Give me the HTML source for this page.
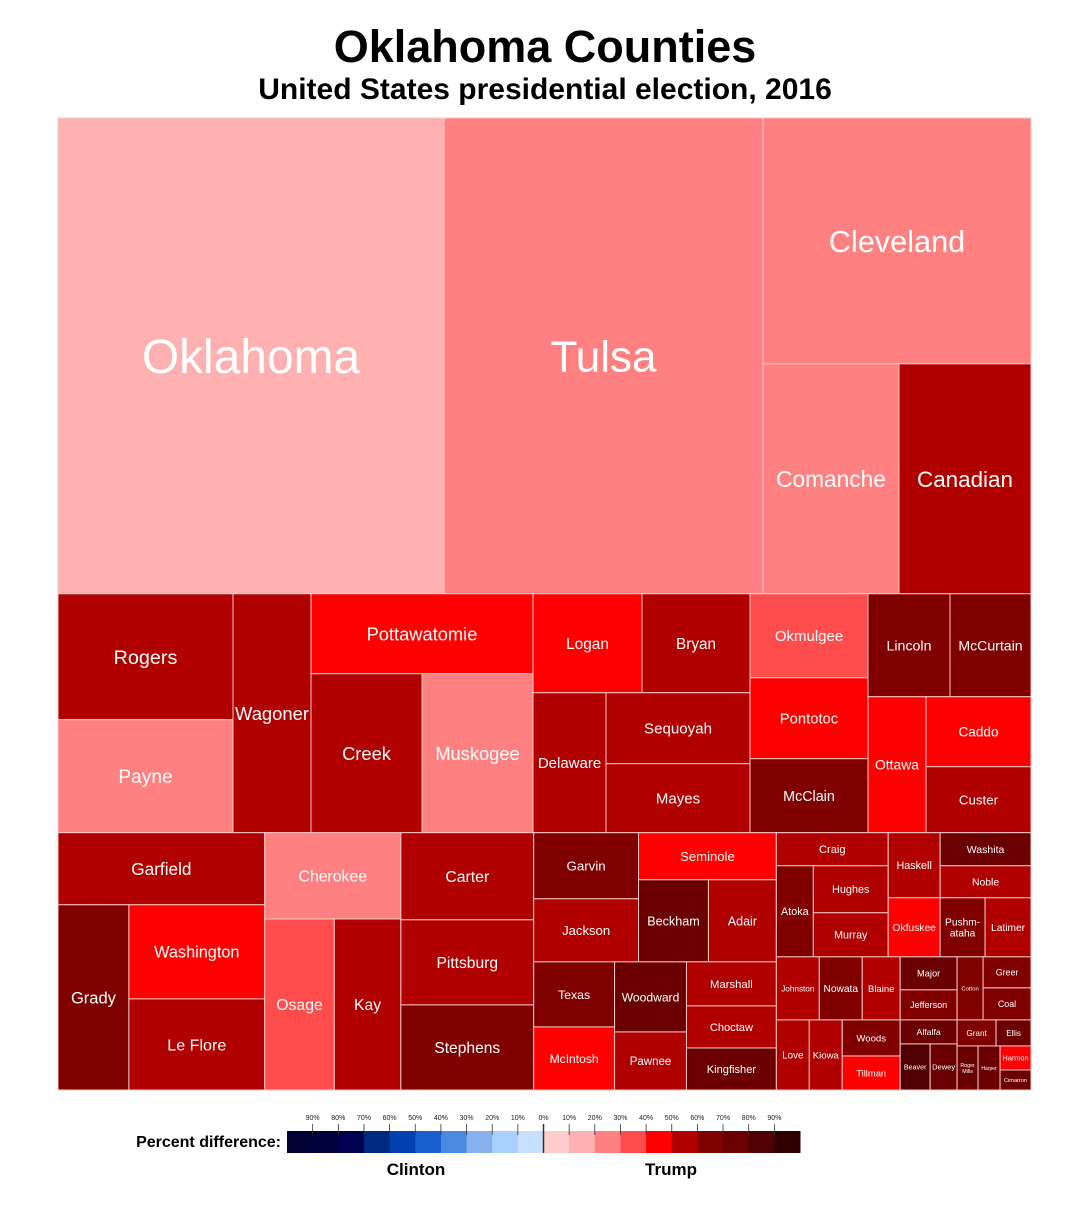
<!DOCTYPE html>
<html><head><meta charset="utf-8"><style>
body{margin:0;background:#fff;width:1089px;height:1200px;overflow:hidden;font-family:"Liberation Sans",sans-serif}
</style></head><body>
<svg id="chart" width="1089" height="1200" xmlns="http://www.w3.org/2000/svg">
<text x="545" y="62" text-anchor="middle" font-family="Liberation Sans, sans-serif" font-weight="bold" font-size="45" fill="#000">Oklahoma Counties</text>
<text x="545" y="99" text-anchor="middle" font-family="Liberation Sans, sans-serif" font-weight="bold" font-size="30" fill="#000">United States presidential election, 2016</text>
<g id="tiles"></g>
<g id="legend">
<text x="281" y="1147" text-anchor="end" font-weight="bold" font-size="16" fill="#000">Percent difference:</text>
<text x="416" y="1175" text-anchor="middle" font-weight="bold" font-size="17" fill="#000">Clinton</text>
<text x="671" y="1175" text-anchor="middle" font-weight="bold" font-size="17" fill="#000">Trump</text>
</g>
</svg>
<script>
const names=["Oklahoma","Tulsa","Cleveland","Comanche","Canadian","Rogers","Payne","Wagoner","Pottawatomie","Creek","Muskogee","Logan","Bryan","Delaware","Sequoyah","Mayes","Okmulgee","Pontotoc","McClain","Lincoln","McCurtain","Ottawa","Caddo","Custer","Garfield","Grady","Washington","Le Flore","Cherokee","Osage","Kay","Carter","Pittsburg","Stephens","Garvin","Jackson","Seminole","Beckham","Adair","Texas","McIntosh","Woodward","Pawnee","Marshall","Choctaw","Kingfisher","Craig","Atoka","Hughes","Murray","Haskell","Okfuskee","Washita","Noble","Pushmataha","Latimer","Johnston","Nowata","Blaine","Love","Kiowa","Woods","Tillman","Major","Jefferson","Cotton","Greer","Coal","Alfalfa","Beaver","Dewey","Grant","Ellis","Roger Mills","Harper","Harmon","Cimarron"];
const votes=[183700,151800,65900,31280,30360,22050,19775,18642,17760,17649,17649,10791,10692,10220,10224,9936,9912,9558,8732,8446,8343,7888,7350,6930,14904,13135,12784,12376,11745,11900,11390,11571,11305,11305,6930,6615,6486,5740,5576,5265,5103,5040,4176,3960,3780,3780,3696,3367,3525,3300,3380,3068,3003,2912,2655,2714,2709,2709,2394,2310,2310,2088,1972,1881,1710,1638,1488,1536,1368,1380,1242,1014,910,924,968,744,620];
const margins=[15,25,25,25,55,55,25,55,45,55,25,45,55,55,55,55,35,45,65,65,65,45,45,55,55,65,45,55,25,35,55,55,55,65,65,55,45,75,55,65,45,75,55,55,55,75,55,65,55,55,55,45,75,55,65,55,55,65,55,55,55,65,45,75,65,65,65,65,75,85,75,65,75,75,75,45,75];
const legendTicks=["90%","80%","70%","60%","50%","40%","30%","20%","10%","0%","10%","20%","30%","40%","50%","60%","70%","80%","90%"];
const blueScale=["#c8e0ff","#a8d0ff","#86b0ee","#4a8ae0","#1860d0","#0040b0","#002a80","#000050","#00003d","#000033"];
const redScale=["#ffcccc","#ffb0b0","#ff8080","#ff4c4c","#ff0000","#b00000","#800000","#6b0000","#500000","#300000"];
const labelOverride={"Pushmataha":["Pushm-","ataha"],"Roger Mills":["Roger","Mills"]};
const H=(...c)=>({d:'h',c}),V=(...c)=>({d:'v',c});
const tree=V(
 H("Oklahoma","Tulsa",V("Cleveland",H("Comanche","Canadian"))),
 V(
  H(H(V("Rogers","Payne"),"Wagoner",V("Pottawatomie",H("Creek","Muskogee"))),
    V(H("Logan","Bryan"),H("Delaware",V("Sequoyah","Mayes"))),
    V("Okmulgee","Pontotoc","McClain"),
    V(H("Lincoln","McCurtain"),H("Ottawa",V("Caddo","Custer")))),
  H(H(V("Garfield",H("Grady",V("Washington","Le Flore"))),
      H(V("Cherokee",H("Osage","Kay")),V("Carter","Pittsburg","Stephens"))),
    V(H(V("Garvin","Jackson"),V("Seminole",H("Beckham","Adair"))),
      H(V("Texas","McIntosh"),V("Woodward","Pawnee"),V("Marshall","Choctaw","Kingfisher"))),
    V(H(V("Craig",H("Atoka",V("Hughes","Murray"))),V("Haskell","Okfuskee"),V("Washita","Noble",H("Pushmataha","Latimer"))),
      H(V(H("Johnston","Nowata","Blaine"),H("Love","Kiowa",V("Woods","Tillman"))),
        V(H(V("Major","Jefferson"),"Cotton",V("Greer","Coal")),
          H(V("Alfalfa",H("Beaver","Dewey")),V(H("Grant","Ellis"),H("Roger Mills","Harper",V("Harmon","Cimarron"))))))))
 )
);
const X0=58,Y0=118,W=973,HT=972;
const NS="http://www.w3.org/2000/svg";
const tiles=document.getElementById('tiles');
function val(n){return typeof n==='string'?votes[names.indexOf(n)]:n.c.reduce((s,k)=>s+val(k),0);}
function color(m){const i=Math.min(9,Math.floor(Math.abs(m)/10));return m>=0?redScale[i]:blueScale[i];}
function layout(n,x,y,w,h){
 if(typeof n==='string'){draw(n,x,y,w,h);return;}
 const tot=val(n);let off=0;
 n.c.forEach(k=>{const f=val(k)/tot;
  if(n.d==='h'){layout(k,x+off,y,w*f,h);off+=w*f;}else{layout(k,x,y+off,w,h*f);off+=h*f;}});
}
function draw(name,x,y,w,h){
 const i=names.indexOf(name);
 const slug=name.toLowerCase().replace(/\s+/g,'-');
 const r=document.createElementNS(NS,'rect');
 
 
 r.setAttribute('x',x);r.setAttribute('y',y);r.setAttribute('width',w);r.setAttribute('height',h);
 r.setAttribute('fill',color(margins[i]));r.setAttribute('stroke','#f4c8c8');r.setAttribute('stroke-width','1');
 tiles.appendChild(r);
 const lines=labelOverride[name]||[name];
 const len=Math.max(...lines.map(s=>s.length));
 let fs=Math.min(5+0.1*Math.sqrt(w*h),(w-6)/(len*0.56),h*0.45/lines.length*1.2);
 fs=Math.max(fs,5);
 const t=document.createElementNS(NS,'text');
 
 
 t.setAttribute('x',x+w/2);t.setAttribute('text-anchor','middle');
 t.setAttribute('font-size',fs.toFixed(1));t.setAttribute('fill','#fff');
 const y0=y+h/2-(lines.length-1)*fs*0.55+fs*0.36;
 lines.forEach((s,j)=>{const ts=document.createElementNS(NS,'tspan');ts.setAttribute('x',x+w/2);ts.setAttribute('y',y0+j*fs*1.1);ts.textContent=s;t.appendChild(ts);});
 tiles.appendChild(t);
}
layout(tree,X0,Y0,W,HT);
const lg=document.getElementById('legend');
const LX=287,LW=513,LY=1131,LH=22,seg=LW/20;
const allCols=blueScale.slice().reverse().concat(redScale);
allCols.forEach((c,k)=>{const r=document.createElementNS(NS,'rect');
 
 
 r.setAttribute('x',LX+k*seg);r.setAttribute('y',LY);r.setAttribute('width',seg+0.5);r.setAttribute('height',LH);r.setAttribute('fill',c);lg.appendChild(r);});
legendTicks.forEach((s,k)=>{const tx=LX+(k+1)*seg;
 const l=document.createElementNS(NS,'line');
 
 
 l.setAttribute('x1',tx);l.setAttribute('x2',tx);l.setAttribute('y1',1124);l.setAttribute('y2',k===9?LY+LH:LY+4);l.setAttribute('stroke','#333');l.setAttribute('stroke-width',k===9?1.5:0.8);lg.appendChild(l);
 const t=document.createElementNS(NS,'text');
 
 
 t.setAttribute('x',tx);t.setAttribute('y',1120);t.setAttribute('text-anchor','middle');t.setAttribute('font-size','7');t.setAttribute('fill','#222');t.textContent=s;lg.appendChild(t);});
</script>
</body></html>
